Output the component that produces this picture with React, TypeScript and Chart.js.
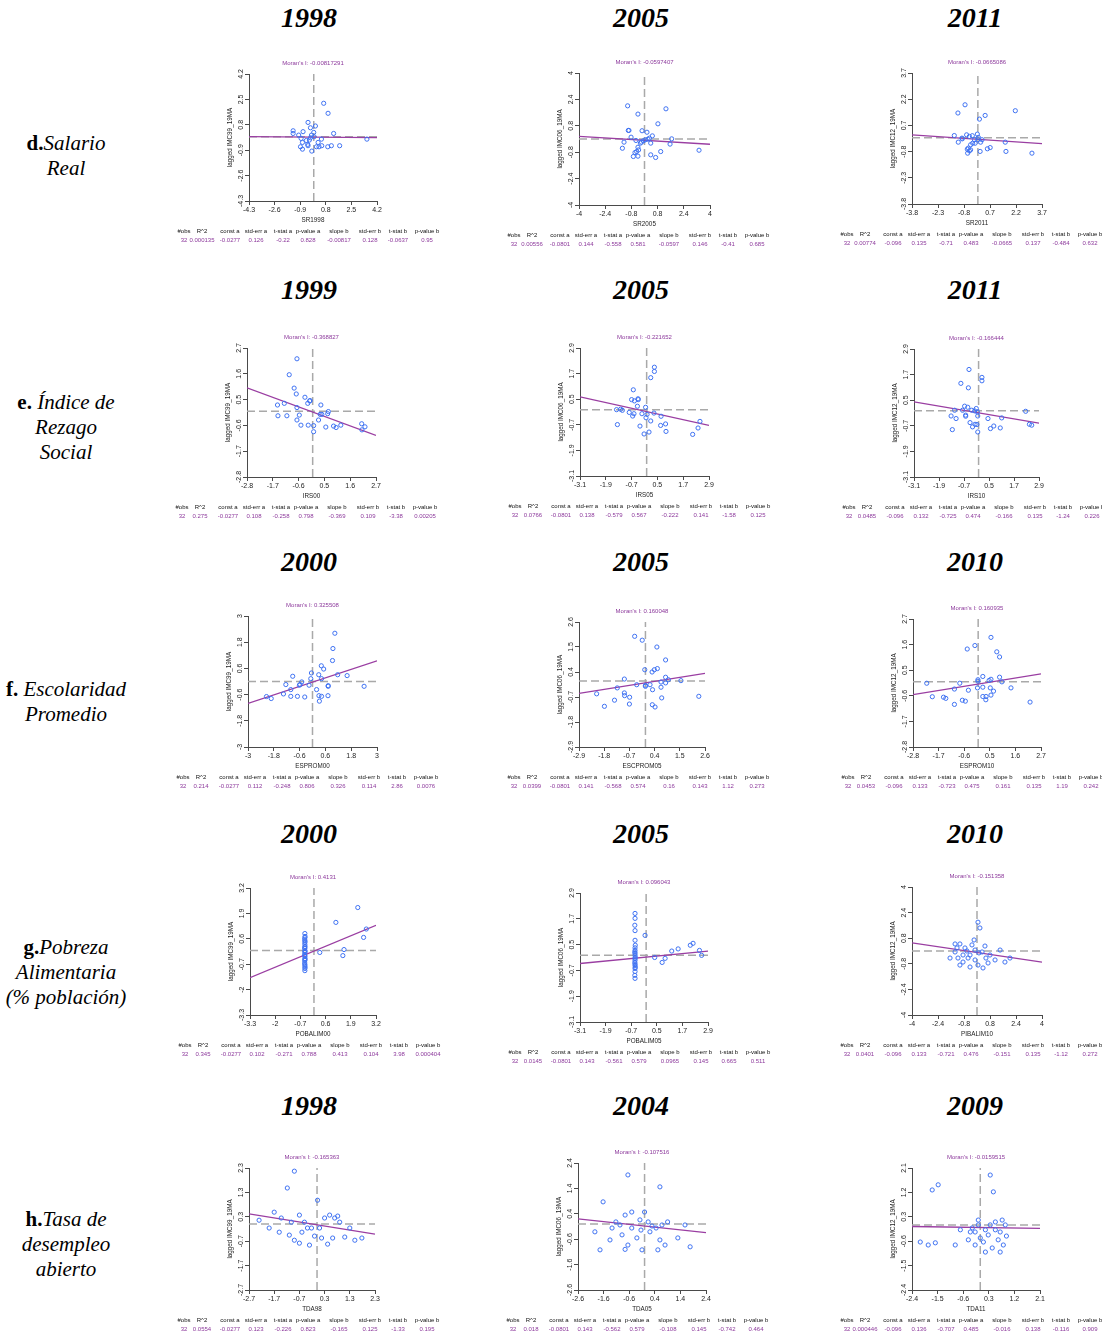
import React, { useEffect, useRef } from "react";
import { Chart, registerables } from "chart.js";

Chart.register(...registerables);

const SANS = '"Liberation Sans", Arial, Helvetica, sans-serif';
const SERIF = '"Liberation Serif", "Times New Roman", serif';
Chart.defaults.font.family = SANS;

const PURPLE_TEXT = "#8d3a9c";
const PURPLE_LINE = "#9a3ea2";
const POINT_BLUE = "#3f72f2";
const DASH_GREY = "#a9a9a9";
const AXIS = "#4a4a4a";

// ---------- column headers (years) per row ----------
const yearsRowD = ["1998", "2005", "2011"];
const yearsRowE = ["1999", "2005", "2011"];
const yearsRowF = ["2000", "2005", "2010"];
const yearsRowG = ["2000", "2005", "2010"];
const yearsRowH = ["1998", "2004", "2009"];

const statHeaders = ["#obs", "R^2", "const a", "std-err a", "t-stat a", "p-value a", "slope b", "std-err b", "t-stat b", "p-value b"];

// ---------- tick values ----------
const ticksD1998 = [-4.3, -2.6, -0.9, 0.8, 2.5, 4.2];
const ticksD2005 = [-4, -2.4, -0.8, 0.8, 2.4, 4];
const ticksD2011 = [-3.8, -2.3, -0.8, 0.7, 2.2, 3.7];
const ticksE1999 = [-2.8, -1.7, -0.6, 0.5, 1.6, 2.7];
const ticksE2005 = [-3.1, -1.9, -0.7, 0.5, 1.7, 2.9];
const ticksE2011 = [-3.1, -1.9, -0.7, 0.5, 1.7, 2.9];
const ticksF2000 = [-3, -1.8, -0.6, 0.6, 1.8, 3];
const ticksF2005 = [-2.9, -1.8, -0.7, 0.4, 1.5, 2.6];
const ticksF2010 = [-2.8, -1.7, -0.6, 0.5, 1.6, 2.7];
const ticksG2000 = [-3.3, -2, -0.7, 0.6, 1.9, 3.2];
const ticksG2005 = [-3.1, -1.9, -0.7, 0.5, 1.7, 2.9];
const ticksG2010 = [-4, -2.4, -0.8, 0.8, 2.4, 4];
const ticksH1998 = [-2.7, -1.7, -0.7, 0.3, 1.3, 2.3];
const ticksH2004 = [-2.6, -1.6, -0.6, 0.4, 1.4, 2.4];
const ticksH2009 = [-2.4, -1.5, -0.6, 0.3, 1.2, 2.1];

// ---------- regression statistics ----------
const statsD1998 = ["32", "0.000135", "-0.0277", "0.126", "-0.22", "0.828", "-0.00817", "0.128", "-0.0637", "0.95"];
const statsD2005 = ["32", "0.00556", "-0.0801", "0.144", "-0.558", "0.581", "-0.0597", "0.146", "-0.41", "0.685"];
const statsD2011 = ["32", "0.00774", "-0.096", "0.135", "-0.71", "0.483", "-0.0665", "0.137", "-0.484", "0.632"];
const statsE1999 = ["32", "0.275", "-0.0277", "0.108", "-0.258", "0.798", "-0.369", "0.109", "-3.38", "0.00205"];
const statsE2005 = ["32", "0.0766", "-0.0801", "0.138", "-0.579", "0.567", "-0.222", "0.141", "-1.58", "0.125"];
const statsE2011 = ["32", "0.0485", "-0.096", "0.132", "-0.725", "0.474", "-0.166", "0.135", "-1.24", "0.226"];
const statsF2000 = ["32", "0.214", "-0.0277", "0.112", "-0.248", "0.806", "0.326", "0.114", "2.86", "0.0076"];
const statsF2005 = ["32", "0.0399", "-0.0801", "0.141", "-0.568", "0.574", "0.16", "0.143", "1.12", "0.273"];
const statsF2010 = ["32", "0.0453", "-0.096", "0.133", "-0.723", "0.475", "0.161", "0.135", "1.19", "0.242"];
const statsG2000 = ["32", "0.345", "-0.0277", "0.102", "-0.271", "0.788", "0.413", "0.104", "3.98", "0.000404"];
const statsG2005 = ["32", "0.0145", "-0.0801", "0.143", "-0.561", "0.579", "0.0965", "0.145", "0.665", "0.511"];
const statsG2010 = ["32", "0.0401", "-0.096", "0.133", "-0.721", "0.476", "-0.151", "0.135", "-1.12", "0.272"];
const statsH1998 = ["32", "0.0554", "-0.0277", "0.123", "-0.226", "0.823", "-0.165", "0.125", "-1.33", "0.195"];
const statsH2004 = ["32", "0.018", "-0.0801", "0.143", "-0.562", "0.579", "-0.108", "0.145", "-0.742", "0.464"];
const statsH2009 = ["32", "0.000446", "-0.096", "0.136", "-0.707", "0.485", "-0.016", "0.138", "-0.116", "0.909"];

// ---------- scatter points [standardized x, lagged y] ----------
const ptsD1998: [number, number][] = [[0.66,2.24],[0.95,1.57],[-0.38,0.96],[0.11,0.72],[-0.22,0.6],[-1.37,0.4],[-1.37,0.22],[-0.71,0.34],[-1.0,0.11],[0,0.29],[-0.15,0.11],[-0.22,-0.07],[-0.29,-0.22],[1.32,0.22],[0.51,-0.16],[-0.84,-0.11],[-0.75,-0.38],[-0.4,-0.51],[-0.38,-0.6],[-0.88,-0.67],[-0.75,-0.83],[-0.13,-0.96],[0.18,-0.67],[0.29,-0.38],[0.53,-0.6],[0.93,-0.67],[1.17,-0.6],[1.72,-0.6],[3.53,-0.16],[0.02,0.0],[-0.49,-0.25],[0.35,-0.67]];
const ptsD2005: [number, number][] = [[-1.03,2.01],[1.31,1.83],[-0.4,1.51],[0.82,0.92],[-0.99,0.52],[-0.95,0.52],[-0.15,0.5],[0.15,0.41],[-0.82,0.11],[0.48,0.19],[-1.25,-0.19],[-0.52,-0.09],[-0.19,-0.19],[-0.07,-0.11],[0.05,-0.05],[0.3,0.05],[0.38,-0.25],[1.66,0.01],[1.56,-0.31],[-1.35,-0.56],[-0.4,-0.5],[-0.36,-0.66],[-0.48,-0.76],[-0.58,-0.82],[0.99,-0.76],[0.38,-0.96],[-0.68,-1.06],[-0.4,-1.04],[0.68,-1.12],[3.33,-0.68],[-0.25,-0.25],[0.21,-0.01]];
const ptsD2011: [number, number][] = [[-0.74,1.88],[-1.15,1.41],[2.16,1.54],[0.42,1.27],[0.09,1.06],[-1.36,0.12],[-0.92,-0.03],[-1.13,-0.26],[-0.65,0.16],[-0.49,0.07],[-0.32,0.11],[-0.03,0.2],[0.03,0.01],[-0.2,-0.12],[0.16,-0.26],[-0.3,-0.32],[-0.16,-0.32],[-0.42,-0.41],[-0.55,-0.6],[-0.61,-0.66],[-0.49,-0.76],[-0.42,-0.7],[-0.59,-0.89],[0.13,-0.79],[0.55,-0.64],[0.71,-0.57],[1.58,-0.26],[1.62,-0.79],[3.12,-0.89],[0.0,-0.12],[0.24,-0.12],[-0.9,-0.07]];
const ptsE1999: [number, number][] = [[-0.67,2.24],[-1.0,1.56],[-0.79,0.99],[-0.7,0.74],[-0.33,0.6],[-0.67,0.16],[-1.21,0.34],[-1.5,0.27],[-0.21,0.34],[-0.13,0.44],[-0.11,0.46],[0.35,0.27],[0.67,-0.01],[0.64,-0.1],[0.39,-0.13],[0.32,-0.13],[-1.48,-0.19],[-1.1,-0.19],[-0.57,-0.16],[-0.67,-0.37],[0.25,-0.37],[-0.5,-0.59],[-0.19,-0.59],[0.04,-0.61],[0.04,-0.87],[0.56,-0.67],[0.89,-0.63],[1.0,-0.69],[1.2,-0.59],[2.09,-0.53],[2.23,-0.66],[2.1,-0.79]];
const ptsE2005: [number, number][] = [[0.36,2.0],[0.36,1.8],[0.19,1.51],[-0.62,0.94],[-0.7,0.48],[-0.57,0.42],[-0.4,0.52],[-0.39,0.48],[-0.43,0.17],[-0.05,0.12],[-1.4,0.01],[-1.21,0.03],[-1.13,-0.02],[-0.81,-0.12],[-0.59,-0.18],[-0.65,-0.29],[-0.22,-0.18],[0.02,-0.21],[-0.03,-0.37],[0.34,-0.15],[0.67,-0.3],[0.19,-0.52],[-1.36,-0.69],[-0.31,-0.76],[-0.12,-1.13],[0.11,-1.04],[0.65,-0.73],[0.88,-0.66],[0.9,-1.01],[2.14,-1.15],[2.39,-0.85],[2.48,-0.54]];
const ptsE2011: [number, number][] = [[-0.46,1.94],[0.16,1.57],[0.16,1.41],[-0.85,1.29],[-0.49,1.08],[-0.67,0.22],[-0.52,0.17],[-0.77,0.03],[-1.15,0.03],[-0.33,0.03],[-0.19,0.0],[-0.11,0.11],[-0.06,-0.05],[-0.62,-0.2],[-0.62,-0.25],[-1.32,-0.24],[-1.08,-0.36],[-0.04,-0.24],[-0.41,-0.55],[-0.17,-0.63],[-0.08,-0.64],[-0.29,-0.75],[-0.04,-0.99],[-1.26,-0.88],[0.45,-0.36],[1.11,-0.33],[0.73,-0.71],[0.57,-0.83],[1.04,-0.8],[2.26,-0.02],[2.44,-0.63],[2.55,-0.67]];
const ptsF2000: [number, number][] = [[1.04,2.21],[0.95,1.51],[0.93,0.96],[0.41,0.72],[0.52,0.57],[-0.05,0.39],[0.29,0.31],[0.42,0.13],[1.17,0.31],[1.61,0.27],[-0.08,0.13],[-0.92,0.24],[-1.24,-0.14],[-0.5,-0.02],[-0.58,-0.14],[-0.61,-0.17],[-0.16,-0.17],[-1.01,-0.37],[-1.35,-0.57],[-2.14,-0.69],[-1.92,-0.78],[-1.01,-0.68],[-0.7,-0.68],[-0.36,-0.71],[0.19,-0.37],[0.73,-0.19],[0.73,-0.22],[2.4,-0.22],[0.3,-0.65],[0.42,-0.68],[0.72,-0.65],[0.32,-0.9]];
const ptsF2005: [number, number][] = [[-0.47,1.97],[-0.14,1.8],[0.5,1.5],[0.88,0.93],[-0.03,0.5],[0.29,0.4],[0.39,0.5],[0.52,0.55],[0.88,0.17],[1.0,0.06],[0.88,-0.08],[1.55,0.02],[0.68,-0.04],[-0.92,0.09],[-0.38,-0.16],[0,-0.19],[0,-0.23],[0.2,-0.16],[0.31,-0.38],[0.68,-0.27],[-1.23,-0.3],[-2.13,-0.56],[-0.92,-0.52],[-0.91,-0.64],[-0.69,-0.71],[-1.35,-0.84],[-1.79,-1.11],[-0.7,-1.01],[0.3,-1.04],[0.42,-1.14],[0.71,-0.74],[2.33,-0.67]];
const ptsF2010: [number, number][] = [[0.55,1.91],[0.8,1.29],[0.92,1.07],[-0.14,1.56],[-0.47,1.41],[0.2,0.23],[-0.01,0.09],[-0.01,0.03],[0.47,0.06],[0.55,0.11],[0.92,0.2],[1.02,0.0],[-2.21,-0.06],[-0.79,-0.06],[-1.02,-0.31],[-0.42,-0.36],[-0.03,-0.26],[0.2,-0.23],[0.52,-0.26],[0.66,-0.4],[1.41,-0.26],[-1.97,-0.64],[-1.49,-0.66],[-1.39,-0.71],[-0.68,-0.79],[-0.55,-0.83],[-1.02,-0.97],[0.2,-0.63],[0.34,-0.63],[0.33,-0.77],[0.55,-0.57],[2.23,-0.87]];
const ptsG2000: [number, number][] = [[-0.47,0.87],[-0.46,0.72],[-0.47,0.65],[-0.48,0.56],[-0.46,0.48],[-0.47,0.41],[-0.47,0.31],[-0.46,0.21],[-0.48,0.15],[-0.47,0.1],[-0.47,0.0],[-0.46,-0.05],[-0.47,-0.1],[-0.48,-0.21],[-0.47,-0.26],[-0.47,-0.31],[-0.46,-0.41],[-0.47,-0.46],[-0.47,-0.51],[-0.48,-0.62],[-0.47,-0.7],[-0.47,-0.77],[-0.46,-0.85],[-0.47,-0.92],[-0.47,-1.03],[1.13,1.44],[2.26,2.2],[1.49,-0.26],[2.56,0.67],[2.7,1.1],[1.55,0.05],[0.3,-0.1]];
const ptsG2005: [number, number][] = [[-0.52,1.95],[-0.52,1.72],[-0.53,1.4],[-0.52,1.15],[-0.52,0.7],[-0.51,0.47],[-0.52,0.35],[-0.52,0.23],[-0.53,0.15],[-0.52,0.09],[-0.52,0.0],[-0.51,-0.09],[-0.52,-0.15],[-0.52,-0.23],[-0.53,-0.33],[-0.52,-0.4],[-0.52,-0.47],[-0.51,-0.55],[-0.52,-0.61],[-0.52,-0.75],[-0.53,-0.93],[-0.52,-1.07],[0.89,-0.14],[2.07,0.47],[2.2,0.56],[2.5,0.23],[2.6,0.0],[-0.05,0.93],[0.75,-0.33],[1.2,0.2],[1.5,0.3],[0.4,-0.1]];
const ptsG2010: [number, number][] = [[0.06,1.8],[0.18,1.44],[-1.05,0.44],[-0.74,0.19],[-1.35,-0.06],[-1.17,-0.44],[-0.86,-0.69],[-0.43,-0.25],[-0.12,0.06],[0.31,-0.06],[0.55,-0.44],[0.8,-0.25],[1.11,-0.56],[1.72,-0.69],[2.03,-0.44],[-1.05,-0.88],[-0.43,-1.0],[0.06,-0.88],[0.37,-1.06],[-1.66,-0.44],[-1.35,0.44],[-0.31,0.38],[-0.62,0.0],[0.49,0.31],[-0.12,-0.56],[-0.55,-0.44],[-0.86,-0.25],[1.42,0.06],[0.68,-0.75],[-1.23,0.19],[0.12,-0.12],[-0.18,0.69]];
const ptsH1998: [number, number][] = [[-0.9,2.17],[-1.18,1.48],[0.02,0.98],[-1.7,0.49],[-2.3,0.16],[-1.42,0.25],[-1.02,0.08],[-0.7,0.37],[-0.5,0.08],[-0.38,-0.16],[-0.22,-0.16],[0.1,-0.16],[0.3,0.25],[0.5,0.37],[0.7,0.25],[0.82,0.33],[-1.1,-0.45],[-0.9,-0.66],[-0.7,-0.78],[0.18,-0.57],[0.42,-0.82],[0.62,-0.57],[1.1,-0.53],[1.5,-0.66],[1.78,-0.57],[1.3,-0.16],[-1.9,-0.16],[-1.5,-0.33],[-0.6,-0.33],[-0.1,-0.49],[-0.3,-0.86],[0.9,0.08]];
const ptsH2004: [number, number][] = [[-0.65,1.93],[-1.62,0.87],[0.6,1.46],[-0.76,0.35],[-0.5,0.47],[0,0.47],[-1.12,0.08],[-0.96,-0.04],[-0.18,0.16],[0.14,0.08],[0.45,-0.16],[0.68,-0.04],[0.9,0.08],[1.58,-0.04],[-1.94,-0.31],[-1.35,-0.63],[-0.88,-0.43],[-0.65,-0.83],[-0.3,-0.55],[-0.1,-1.02],[0.21,-0.31],[0.52,-1.02],[0.8,-0.83],[1.3,-0.55],[1.78,-0.9],[-0.5,-0.16],[-0.76,-1.0],[0.29,-0.08],[0.6,-0.63],[-1.27,-0.16],[-0.14,-0.24],[-1.74,-1.02]];
const ptsH2009: [number, number][] = [[-1.48,1.48],[-1.69,1.29],[0.35,1.84],[0.46,1.22],[-0.07,0.18],[-2.11,-0.63],[-1.83,-0.74],[-1.58,-0.66],[-0.88,-0.74],[-0.28,-0.11],[-0.18,-0.26],[0.18,-0.18],[0.35,0.0],[0.53,0.11],[0.77,0.18],[0.88,0.0],[0.11,-0.63],[0.42,-0.85],[0.63,-0.55],[0.81,-0.74],[0.7,-0.26],[-0.18,-0.74],[0,-0.48],[-0.42,-0.55],[0.28,-0.37],[0.7,-1.0],[0.18,-1.0],[-0.35,-0.26],[0.53,-0.18],[-0.07,0.0],[0.92,-0.41],[-0.7,-0.18]];

type PanelDef = {
  key: string;
  box: [number, number, number, number]; // plot-area left, top, right, bottom (page px)
  pts: [number, number][];
  xTicks: number[];
  yTicks: number[];
  stats: string[];
  moran: string;
  xLabel: string;
  yLabel: string;
};

const panels: PanelDef[] = [
  { key: "d1998", box: [249, 74, 377, 201], pts: ptsD1998, xTicks: ticksD1998, yTicks: ticksD1998, stats: statsD1998, moran: "-0.00817291", xLabel: "SR1998", yLabel: "lagged IMC99_19MA" },
  { key: "d2005", box: [579, 73, 710, 205], pts: ptsD2005, xTicks: ticksD2005, yTicks: ticksD2005, stats: statsD2005, moran: "-0.0597407", xLabel: "SR2005", yLabel: "lagged IMC06_19MA" },
  { key: "d2011", box: [912, 73, 1042, 204], pts: ptsD2011, xTicks: ticksD2011, yTicks: ticksD2011, stats: statsD2011, moran: "-0.0665086", xLabel: "SR2011", yLabel: "lagged IMC12_19MA" },
  { key: "e1999", box: [247, 348, 376, 477], pts: ptsE1999, xTicks: ticksE1999, yTicks: ticksE1999, stats: statsE1999, moran: "-0.368827", xLabel: "IRS00", yLabel: "lagged IMC99_19MA" },
  { key: "e2005", box: [580, 348, 709, 476], pts: ptsE2005, xTicks: ticksE2005, yTicks: ticksE2005, stats: statsE2005, moran: "-0.221652", xLabel: "IRS05", yLabel: "lagged IMC06_19MA" },
  { key: "e2011", box: [914, 349, 1039, 477], pts: ptsE2011, xTicks: ticksE2011, yTicks: ticksE2011, stats: statsE2011, moran: "-0.166444", xLabel: "IRS10", yLabel: "lagged IMC12_19MA" },
  { key: "f2000", box: [248, 616, 377, 747], pts: ptsF2000, xTicks: ticksF2000, yTicks: ticksF2000, stats: statsF2000, moran: "0.325508", xLabel: "ESPROM00", yLabel: "lagged IMC99_19MA" },
  { key: "f2005", box: [579, 622, 705, 747], pts: ptsF2005, xTicks: ticksF2005, yTicks: ticksF2005, stats: statsF2005, moran: "0.160048", xLabel: "ESCPROM05", yLabel: "lagged IMC06_19MA" },
  { key: "f2010", box: [913, 619, 1041, 747], pts: ptsF2010, xTicks: ticksF2010, yTicks: ticksF2010, stats: statsF2010, moran: "0.160935", xLabel: "ESPROM10", yLabel: "lagged IMC12_19MA" },
  { key: "g2000", box: [250, 888, 376, 1015], pts: ptsG2000, xTicks: ticksG2000, yTicks: ticksG2000, stats: statsG2000, moran: "0.4131", xLabel: "POBALIM00", yLabel: "lagged IMC99_19MA" },
  { key: "g2005", box: [580, 893, 708, 1022], pts: ptsG2005, xTicks: ticksG2005, yTicks: ticksG2005, stats: statsG2005, moran: "0.096043", xLabel: "POBALIM05", yLabel: "lagged IMC06_19MA" },
  { key: "g2010", box: [912, 887, 1042, 1015], pts: ptsG2010, xTicks: ticksG2010, yTicks: ticksG2010, stats: statsG2010, moran: "-0.151358", xLabel: "PIBALIM10", yLabel: "lagged IMC12_19MA" },
  { key: "h1998", box: [249, 1168, 375, 1290], pts: ptsH1998, xTicks: ticksH1998, yTicks: ticksH1998, stats: statsH1998, moran: "-0.165363", xLabel: "TDA98", yLabel: "lagged IMC99_19MA" },
  { key: "h2004", box: [578, 1163, 706, 1290], pts: ptsH2004, xTicks: ticksH2004, yTicks: ticksH2004, stats: statsH2004, moran: "-0.107516", xLabel: "TDA05", yLabel: "lagged IMC06_19MA" },
  { key: "h2009", box: [912, 1168, 1040, 1290], pts: ptsH2009, xTicks: ticksH2009, yTicks: ticksH2009, stats: statsH2009, moran: "-0.0159515", xLabel: "TDA11", yLabel: "lagged IMC12_19MA" },
];

const yearRows = [yearsRowD, yearsRowE, yearsRowF, yearsRowG, yearsRowH];
const yearRowY = [18, 290, 562, 834, 1106];
const yearColX = [309, 641, 975];

const rowLabels = [
  { letter: "d.", sep: "", lines: ["Salario", "Real"], y: 143 },
  { letter: "e.", sep: " ", lines: ["Índice de", "Rezago", "Social"], y: 402 },
  { letter: "f.", sep: " ", lines: ["Escolaridad", "Promedio"], y: 689 },
  { letter: "g.", sep: "", lines: ["Pobreza", "Alimentaria", "(% población)"], y: 947 },
  { letter: "h.", sep: "", lines: ["Tasa de", "desempleo", "abierto"], y: 1219 },
];

// layout constants for each panel canvas
const PAD_L = 80;
const Y_W = 40;
const PAD_T = 22;
const X_H = 26;
const PAD_B = 24;
const CANVAS_W = 300;
const STAT_OFFSETS = [-65, -47, -19, 7, 34, 59, 90, 121, 149, 178];

function MoranPanel({ p }: { p: PanelDef }) {
  const ref = useRef<HTMLCanvasElement>(null);
  const [L, T, R, B] = p.box;
  const W = CANVAS_W;
  const H = B - T + PAD_T + X_H + PAD_B;

  useEffect(() => {
    const canvas = ref.current;
    if (!canvas) return;
    const xMin = p.xTicks[0];
    const xMax = p.xTicks[p.xTicks.length - 1];
    const yMin = p.yTicks[0];
    const yMax = p.yTicks[p.yTicks.length - 1];
    const a = parseFloat(p.stats[2]);
    const b = parseFloat(p.stats[6]);

    const overlay = {
      id: "overlay" + p.key,
      afterDraw(chart: any) {
        const { ctx, chartArea, scales } = chart;
        ctx.save();
        // y tick labels, rotated like R
        ctx.fillStyle = "#222";
        ctx.font = `7px ${SANS}`;
        ctx.textAlign = "center";
        ctx.textBaseline = "middle";
        p.yTicks.forEach((v) => {
          const py = scales.y.getPixelForValue(v);
          ctx.save();
          ctx.translate(chartArea.left - 8, py);
          ctx.rotate(-Math.PI / 2);
          ctx.fillText(String(v), 0, 0);
          ctx.restore();
        });
        // Moran's I title
        ctx.fillStyle = PURPLE_TEXT;
        ctx.font = `6px ${SANS}`;
        ctx.fillText("Moran's I: " + p.moran, (chartArea.left + chartArea.right) / 2, chartArea.top - 11);
        // regression stats table
        statHeaders.forEach((h, i) => {
          const cx = chartArea.left + STAT_OFFSETS[i];
          ctx.fillStyle = "#111";
          ctx.fillText(h, cx, chartArea.bottom + 30);
          ctx.fillStyle = PURPLE_TEXT;
          ctx.fillText(p.stats[i], cx, chartArea.bottom + 39);
        });
        ctx.restore();
      },
    };

    const chart = new Chart(canvas, {
      type: "scatter",
      data: {
        datasets: [
          {
            data: p.pts.map(([x, y]) => ({ x, y })),
            pointRadius: 2.1,
            pointHoverRadius: 2.1,
            borderColor: POINT_BLUE,
            backgroundColor: "rgba(0,0,0,0)",
            borderWidth: 1,
            order: 0,
          },
          {
            data: [{ x: xMin, y: a + b * xMin }, { x: xMax, y: a + b * xMax }],
            showLine: true,
            borderColor: PURPLE_LINE,
            borderWidth: 1.3,
            pointRadius: 0,
            order: 1,
          },
          {
            data: [{ x: 0, y: yMin }, { x: 0, y: yMax }],
            showLine: true,
            borderColor: DASH_GREY,
            borderDash: [8, 4],
            borderWidth: 1.5,
            pointRadius: 0,
            order: 2,
          },
          {
            data: [{ x: xMin, y: 0 }, { x: xMax, y: 0 }],
            showLine: true,
            borderColor: DASH_GREY,
            borderDash: [8, 4],
            borderWidth: 1.5,
            pointRadius: 0,
            order: 3,
          },
        ] as any,
      },
      options: {
        animation: false,
        responsive: false,
        events: [],
        layout: {
          padding: { left: PAD_L - Y_W, top: PAD_T, right: W - PAD_L - (R - L), bottom: PAD_B },
        },
        plugins: { legend: { display: false }, tooltip: { enabled: false }, title: { display: false } },
        scales: {
          x: {
            type: "linear",
            min: xMin,
            max: xMax,
            bounds: "data",
            afterBuildTicks: (s: any) => {
              s.ticks = p.xTicks.map((v) => ({ value: v }));
            },
            afterFit: (s: any) => {
              s.height = X_H;
            },
            ticks: {
              autoSkip: false,
              maxRotation: 0,
              minRotation: 0,
              padding: 1,
              color: "#222",
              font: { size: 7, family: SANS },
              callback: (v: any) => String(v),
            },
            grid: { drawOnChartArea: false, drawTicks: true, tickLength: 4, color: AXIS, lineWidth: 1 },
            border: { display: true, color: AXIS, width: 1 },
            title: { display: true, text: p.xLabel, color: "#222", font: { size: 6.3, family: SANS }, padding: { top: 0, bottom: 3 } },
          },
          y: {
            type: "linear",
            min: yMin,
            max: yMax,
            bounds: "data",
            afterBuildTicks: (s: any) => {
              s.ticks = p.yTicks.map((v) => ({ value: v }));
            },
            afterFit: (s: any) => {
              s.width = Y_W;
            },
            ticks: {
              autoSkip: false,
              color: "rgba(0,0,0,0)",
              font: { size: 7, family: SANS },
              callback: (v: any) => String(v),
            },
            grid: { drawOnChartArea: false, drawTicks: true, tickLength: 4, color: AXIS, lineWidth: 1 },
            border: { display: true, color: AXIS, width: 1 },
            title: { display: true, text: p.yLabel, color: "#222", font: { size: 6.3, family: SANS }, padding: { top: 17, bottom: 0 } },
          },
        },
      } as any,
      plugins: [overlay],
    });
    return () => chart.destroy();
  }, []);

  return (
    <canvas
      ref={ref}
      width={W}
      height={H}
      style={{ position: "absolute", left: L - PAD_L, top: T - PAD_T, width: W, height: H }}
    />
  );
}

export default function App() {
  return (
    <div style={{ position: "absolute", left: 0, top: 0, width: 1102, height: 1335, background: "#fff", overflow: "hidden" }}>
      {yearRows.map((row, ri) =>
        row.map((yr, ci) => (
          <div
            key={`y${ri}${ci}`}
            style={{
              position: "absolute",
              left: yearColX[ci] - 60,
              width: 120,
              top: yearRowY[ri] - 17,
              height: 34,
              lineHeight: "34px",
              textAlign: "center",
              fontFamily: SERIF,
              fontWeight: "bold",
              fontStyle: "italic",
              fontSize: 28,
              color: "#000",
            }}
          >
            {yr}
          </div>
        ))
      )}
      {rowLabels.map((rl, i) => (
        <div
          key={`r${i}`}
          style={{
            position: "absolute",
            left: 0,
            width: 132,
            top: rl.y - 12.5,
            lineHeight: "25px",
            textAlign: "center",
            fontFamily: SERIF,
            fontSize: 21,
            color: "#000",
          }}
        >
          {rl.lines.map((ln, j) => (
            <div key={j} style={{ whiteSpace: "nowrap" }}>
              {j === 0 ? <b style={{ fontStyle: "normal" }}>{rl.letter + rl.sep}</b> : null}
              <i>{ln}</i>
            </div>
          ))}
        </div>
      ))}
      {panels.map((p) => (
        <MoranPanel key={p.key} p={p} />
      ))}
    </div>
  );
}
